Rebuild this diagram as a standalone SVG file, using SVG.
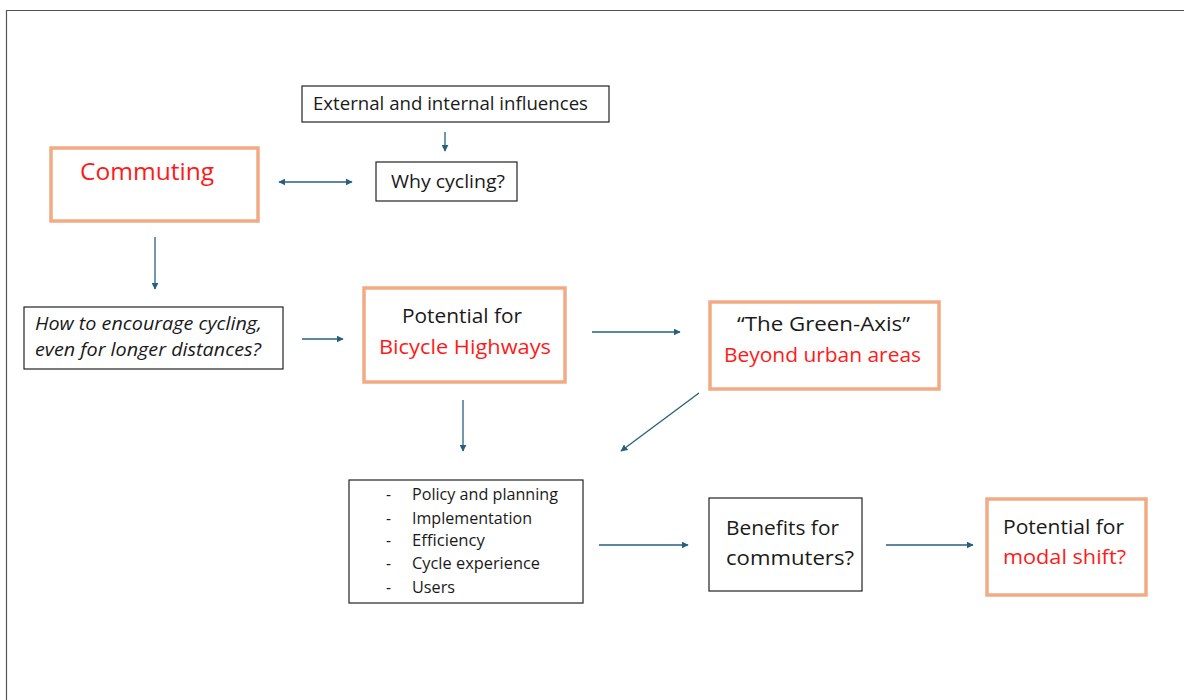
<svg xmlns="http://www.w3.org/2000/svg" width="1184" height="700" viewBox="0 0 1184 700">
<defs>
<style>
.bb{fill:#fff;stroke:#222;stroke-width:1.2}
.ob{fill:#fff;stroke:#F2AA84;stroke-width:3.5}
.t{font-family:"Open Sans","Liberation Sans",Arial,sans-serif;fill:#1a1a1a}
.r{fill:#FF1A1A}
.c{stroke:#26607F;stroke-width:1.3;fill:none;marker-end:url(#ah)}
</style>
<marker id="ah" viewBox="0 0 10 10" refX="9" refY="5" markerWidth="7" markerHeight="7" markerUnits="userSpaceOnUse" orient="auto-start-reverse">
<path d="M0,0 L10,5 L0,10 z" fill="#26607F"/>
</marker>
</defs>
<rect width="1184" height="700" fill="#fff"/>
<path d="M6.5,700 V10.5 H1184" fill="none" stroke="#555" stroke-width="1.2"/>

<g id="external">
<rect class="bb" x="302" y="86" width="307" height="36"/>
<text class="t" x="313" y="110" font-size="17.5" textLength="275" lengthAdjust="spacingAndGlyphs">External and internal influences</text>
</g>
<g id="why">
<rect class="bb" x="376" y="162" width="141" height="39"/>
<text class="t" x="391" y="188" font-size="17.5" textLength="114" lengthAdjust="spacingAndGlyphs">Why cycling?</text>
</g>
<g id="commuting">
<rect class="ob" x="51" y="148" width="207" height="73"/>
<text class="t r" x="80" y="180" font-size="24" textLength="134" lengthAdjust="spacingAndGlyphs">Commuting</text>
</g>
<g id="how">
<rect class="bb" x="24" y="307" width="259" height="62"/>
<text class="t" x="35" y="330" font-size="17.5" font-style="italic" textLength="227" lengthAdjust="spacingAndGlyphs">How to encourage cycling,</text>
<text class="t" x="35" y="356" font-size="17.5" font-style="italic" textLength="226" lengthAdjust="spacingAndGlyphs">even for longer distances?</text>
</g>
<g id="highways">
<rect class="ob" x="364" y="288" width="201" height="94"/>
<text class="t" x="402" y="323" font-size="19.5" textLength="120" lengthAdjust="spacingAndGlyphs">Potential for</text>
<text class="t r" x="379" y="354" font-size="19.5" textLength="172" lengthAdjust="spacingAndGlyphs">Bicycle Highways</text>
</g>
<g id="greenaxis">
<rect class="ob" x="710" y="302" width="229" height="87"/>
<text class="t" x="737" y="331" font-size="19.5" textLength="173" lengthAdjust="spacingAndGlyphs">“The Green-Axis”</text>
<text class="t r" x="724" y="362" font-size="19.5" textLength="197" lengthAdjust="spacingAndGlyphs">Beyond urban areas</text>
</g>
<g id="list">
<rect class="bb" x="349" y="480" width="234" height="123"/>
<g class="t" font-size="15.5">
<text x="386" y="500">-</text><text x="412" y="500" textLength="146" lengthAdjust="spacingAndGlyphs">Policy and planning</text>
<text x="386" y="524">-</text><text x="412" y="524" textLength="120" lengthAdjust="spacingAndGlyphs">Implementation</text>
<text x="386" y="546">-</text><text x="412" y="546" textLength="73" lengthAdjust="spacingAndGlyphs">Efficiency</text>
<text x="386" y="569">-</text><text x="412" y="569" textLength="128" lengthAdjust="spacingAndGlyphs">Cycle experience</text>
<text x="386" y="593">-</text><text x="412" y="593" textLength="43" lengthAdjust="spacingAndGlyphs">Users</text>
</g>
</g>
<g id="benefits">
<rect class="bb" x="709" y="498" width="153" height="93"/>
<text class="t" x="726" y="535" font-size="19.5" textLength="113" lengthAdjust="spacingAndGlyphs">Benefits for</text>
<text class="t" x="726" y="565" font-size="19.5" textLength="128" lengthAdjust="spacingAndGlyphs">commuters?</text>
</g>
<g id="modal">
<rect class="ob" x="987" y="499" width="159" height="96"/>
<text class="t" x="1003" y="534" font-size="19.5" textLength="121" lengthAdjust="spacingAndGlyphs">Potential for</text>
<text class="t r" x="1003" y="564" font-size="19.5" textLength="123" lengthAdjust="spacingAndGlyphs">modal shift?</text>
</g>

<g id="connectors">
<line class="c" x1="445" y1="132" x2="445" y2="151"/>
<line class="c" x1="279" y1="182" x2="352" y2="182" marker-start="url(#ah)"/>
<line class="c" x1="155" y1="237" x2="155" y2="289"/>
<line class="c" x1="302" y1="339" x2="343" y2="339"/>
<line class="c" x1="592" y1="332" x2="680" y2="332"/>
<line class="c" x1="699" y1="393" x2="621" y2="451"/>
<line class="c" x1="463" y1="400" x2="463" y2="451"/>
<line class="c" x1="599" y1="545" x2="688" y2="545"/>
<line class="c" x1="886" y1="545" x2="973" y2="545"/>
</g>
</svg>
